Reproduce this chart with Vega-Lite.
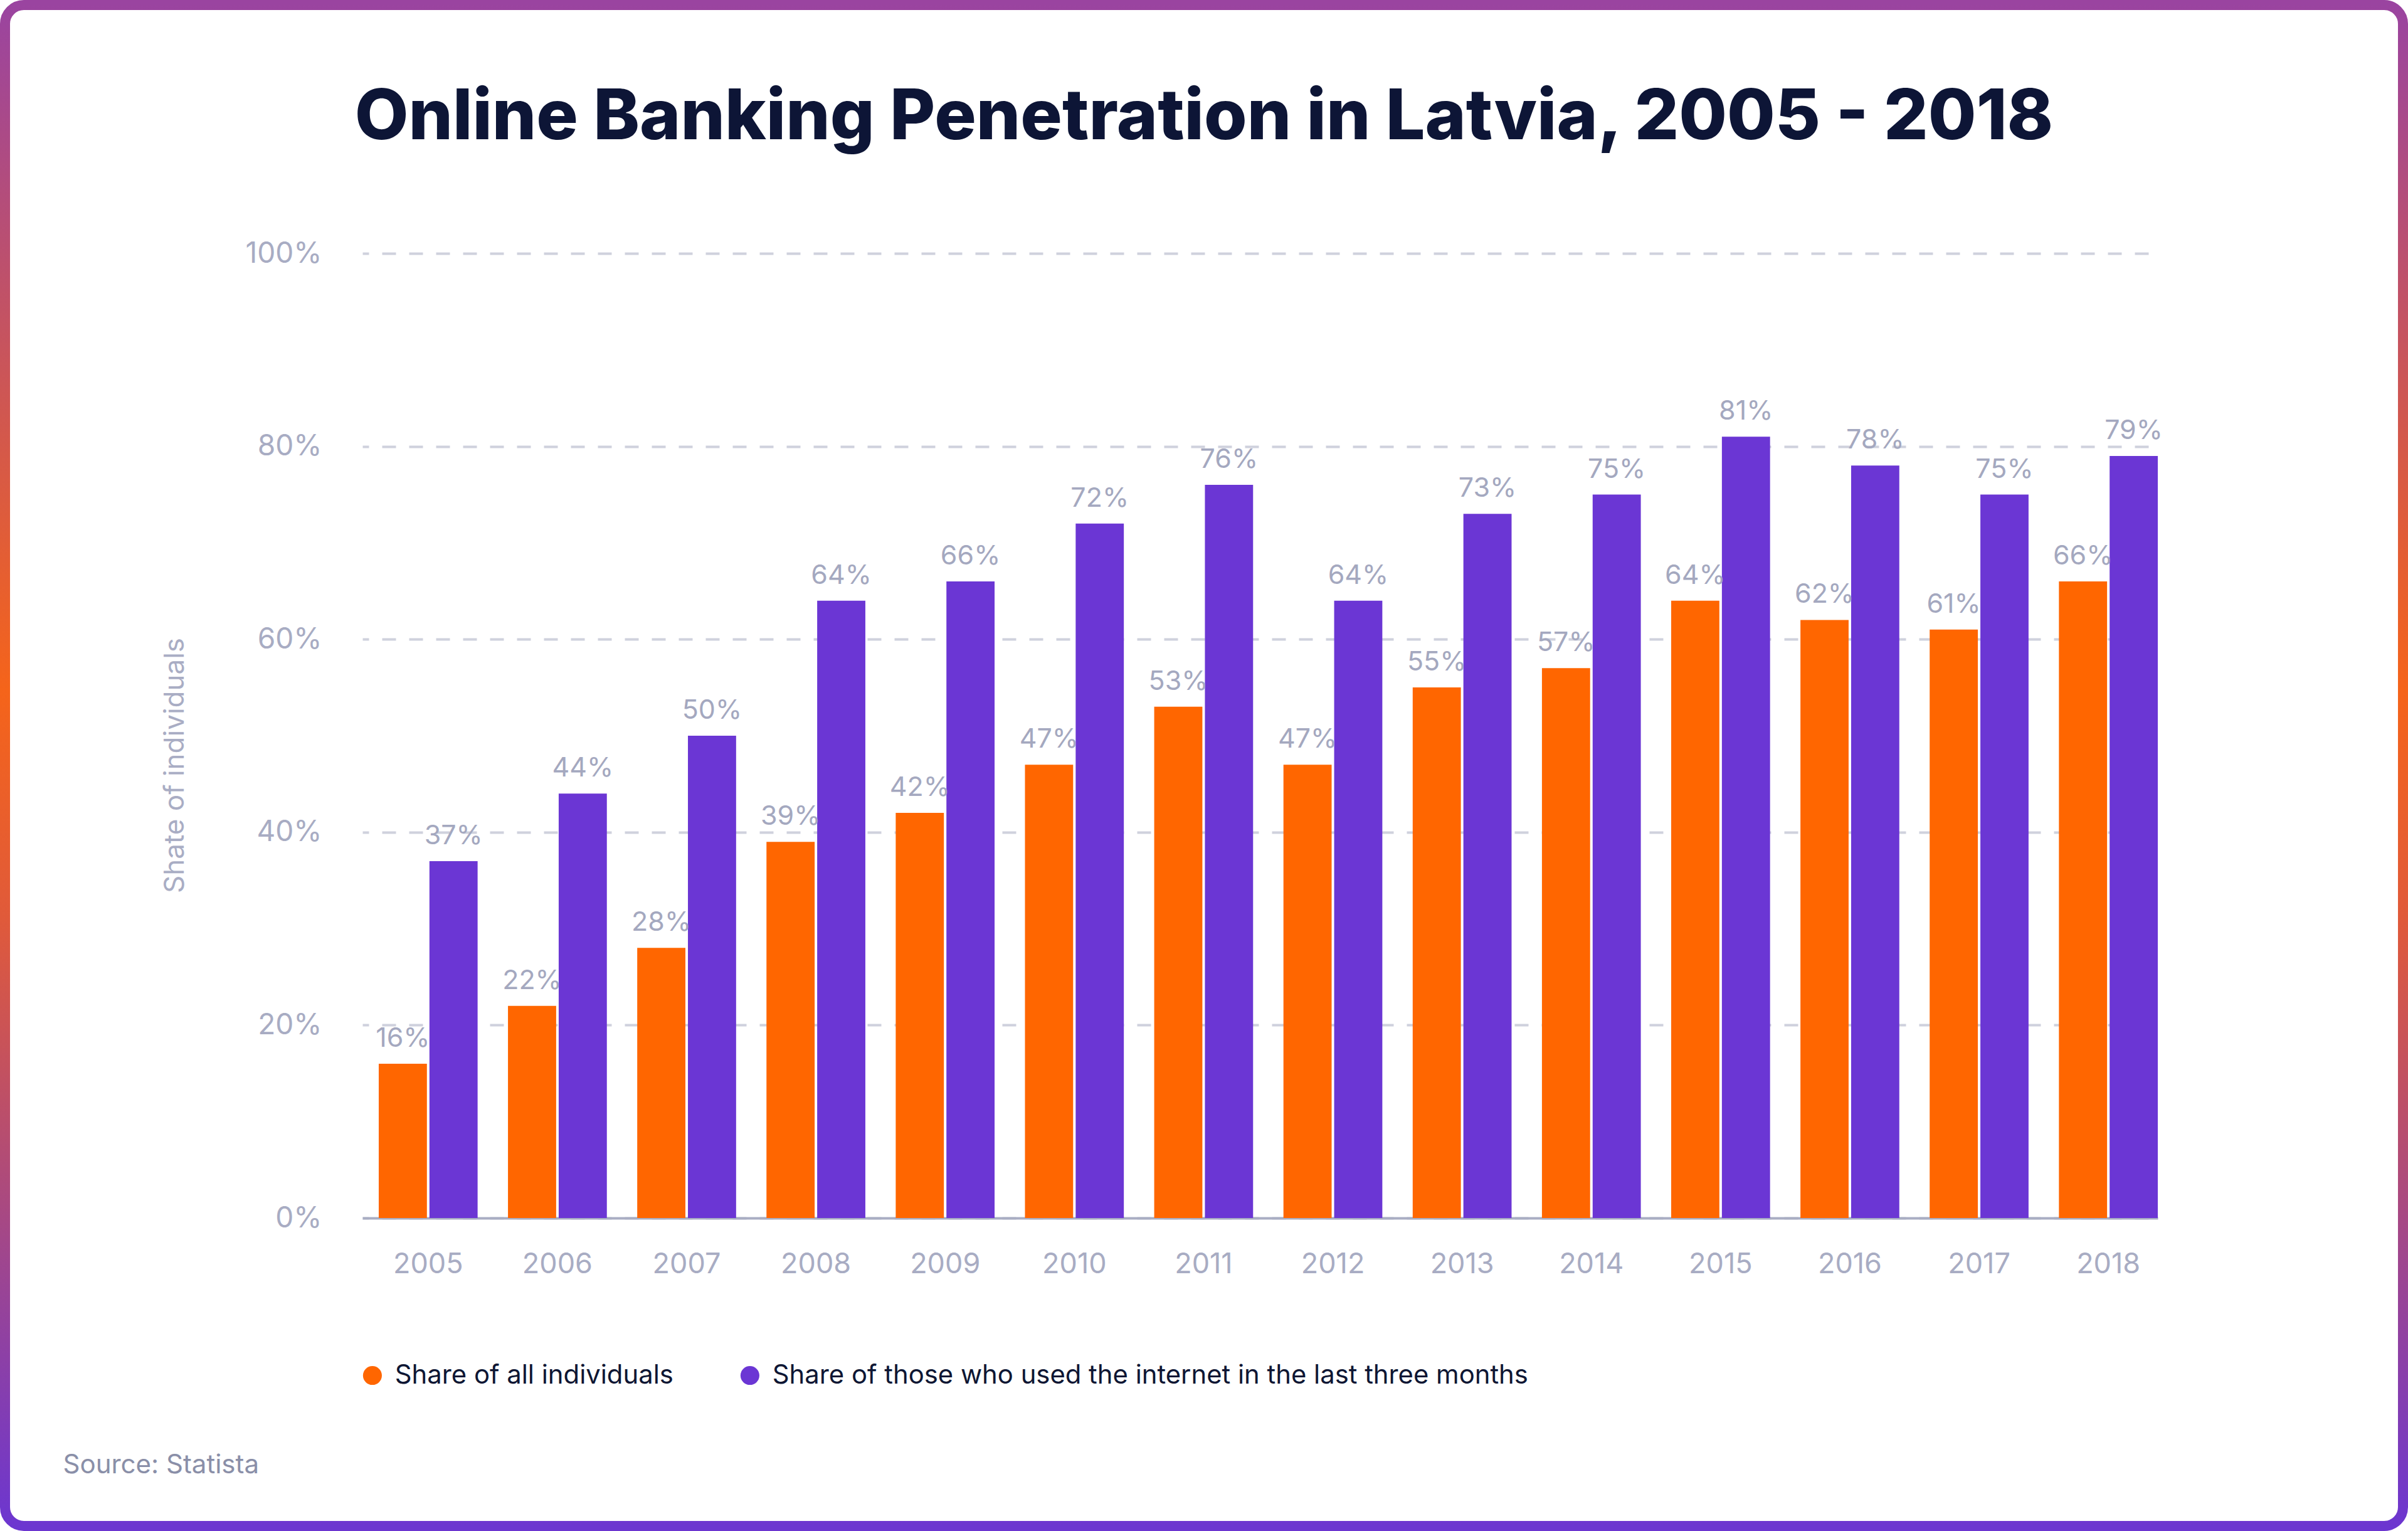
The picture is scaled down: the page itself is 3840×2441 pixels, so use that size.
{
  "$schema": "https://vega.github.io/schema/vega-lite/v6.json",
  "width": 3824,
  "height": 2425,
  "padding": 8,
  "autosize": {"type": "none"},
  "background": "white",
  "title": {
    "text": "Online Banking Penetration in Latvia, 2005 - 2018",
    "anchor": "middle",
    "frame": "group",
    "offset": -325,
    "baseline": "alphabetic",
    "font": "Inter",
    "fontSize": 111,
    "fontWeight": 800,
    "color": "#0d1536"
  },
  "config": {
    "font": "Inter",
    "view": {
      "stroke": {"expr": "{gradient: 'linear', x1: 0, y1: 0, x2: 0, y2: 1, stops: [{offset: 0, color: '#9a44a0'}, {offset: 0.45, color: '#f5641a'}, {offset: 0.6, color: '#e05a3a'}, {offset: 1, color: '#6c36d0'}]}"},
      "strokeWidth": 16,
      "cornerRadius": 30,
      "fill": "white"
    }
  },
  "data": {
    "values": [
      {"year": "2005", "series": "Share of all individuals", "value": 0.16},
      {"year": "2005", "series": "Share of those who used the internet in the last three months", "value": 0.37},
      {"year": "2006", "series": "Share of all individuals", "value": 0.22},
      {"year": "2006", "series": "Share of those who used the internet in the last three months", "value": 0.44},
      {"year": "2007", "series": "Share of all individuals", "value": 0.28},
      {"year": "2007", "series": "Share of those who used the internet in the last three months", "value": 0.50},
      {"year": "2008", "series": "Share of all individuals", "value": 0.39},
      {"year": "2008", "series": "Share of those who used the internet in the last three months", "value": 0.64},
      {"year": "2009", "series": "Share of all individuals", "value": 0.42},
      {"year": "2009", "series": "Share of those who used the internet in the last three months", "value": 0.66},
      {"year": "2010", "series": "Share of all individuals", "value": 0.47},
      {"year": "2010", "series": "Share of those who used the internet in the last three months", "value": 0.72},
      {"year": "2011", "series": "Share of all individuals", "value": 0.53},
      {"year": "2011", "series": "Share of those who used the internet in the last three months", "value": 0.76},
      {"year": "2012", "series": "Share of all individuals", "value": 0.47},
      {"year": "2012", "series": "Share of those who used the internet in the last three months", "value": 0.64},
      {"year": "2013", "series": "Share of all individuals", "value": 0.55},
      {"year": "2013", "series": "Share of those who used the internet in the last three months", "value": 0.73},
      {"year": "2014", "series": "Share of all individuals", "value": 0.57},
      {"year": "2014", "series": "Share of those who used the internet in the last three months", "value": 0.75},
      {"year": "2015", "series": "Share of all individuals", "value": 0.64},
      {"year": "2015", "series": "Share of those who used the internet in the last three months", "value": 0.81},
      {"year": "2016", "series": "Share of all individuals", "value": 0.62},
      {"year": "2016", "series": "Share of those who used the internet in the last three months", "value": 0.78},
      {"year": "2017", "series": "Share of all individuals", "value": 0.61},
      {"year": "2017", "series": "Share of those who used the internet in the last three months", "value": 0.75},
      {"year": "2018", "series": "Share of all individuals", "value": 0.66},
      {"year": "2018", "series": "Share of those who used the internet in the last three months", "value": 0.79}
    ]
  },
  "encoding": {
    "x": {
      "field": "year",
      "type": "ordinal",
      "scale": {"range": [570, 3433], "paddingInner": 0.235, "paddingOuter": 0.063, "align": 1},
      "axis": {
        "offset": -491,
        "labelAngle": 0,
        "ticks": false,
        "tickSize": 0,
        "labelPadding": 51,
        "labelFont": "Inter",
        "labelFontSize": 45,
        "labelColor": "#a8acc3",
        "domainColor": "#a9adc3",
        "domainWidth": 4,
        "grid": false,
        "title": "Source: Statista",
        "titleX": 92,
        "titleY": 406,
        "titleAnchor": null,
        "titleAlign": "left",
        "titleBaseline": "alphabetic",
        "titleFont": "Inter",
        "titleFontSize": 42,
        "titleFontWeight": "normal",
        "titleColor": "#8a8fa8"
      }
    },
    "xOffset": {
      "field": "series",
      "type": "nominal",
      "scale": {"paddingInner": 0.05}
    },
    "y": {
      "field": "value",
      "type": "quantitative",
      "scale": {"domain": [0, 1], "range": [1934, 396], "nice": false, "zero": true},
      "axis": {
        "offset": -570,
        "values": [0, 0.2, 0.4, 0.6, 0.8, 1],
        "format": ".0%",
        "domain": false,
        "ticks": false,
        "tickSize": 0,
        "labelPadding": 65,
        "labelFont": "Inter",
        "labelFontSize": 46,
        "labelColor": "#a8acc3",
        "grid": true,
        "gridColor": "#cfd1dd",
        "gridWidth": 4,
        "gridDash": [22, 21],
        "gridDashOffset": 12,
        "title": "Shate of individuals",
        "titleX": -299,
        "titleY": 1212,
        "titleAngle": -90,
        "titleAlign": "center",
        "titleBaseline": "middle",
        "titleFont": "Inter",
        "titleFontSize": 44,
        "titleFontWeight": "normal",
        "titleColor": "#a9adc4"
      }
    }
  },
  "layer": [
    {
      "mark": {"type": "bar"},
      "encoding": {
        "color": {
          "field": "series",
          "type": "nominal",
          "scale": {
            "domain": ["Share of all individuals", "Share of those who used the internet in the last three months"],
            "range": ["#ff6600", "#6b36d4"]
          },
          "legend": {
            "orient": "none",
            "legendX": 565,
            "legendY": 2164,
            "direction": "horizontal",
            "title": null,
            "symbolType": "circle",
            "symbolSize": 908,
            "symbolStrokeWidth": 0,
            "symbolOpacity": 1,
            "labelFont": "Inter",
            "labelFontSize": 41.8,
            "labelColor": "#0e1633",
            "labelOffset": 15,
            "labelLimit": 2000,
            "columnPadding": 101
          }
        }
      }
    },
    {
      "mark": {"type": "text", "dy": -27, "baseline": "alphabetic", "font": "Inter", "fontSize": 43, "color": "#a4a8bf"},
      "encoding": {
        "text": {"field": "value", "type": "quantitative", "format": ".0%"}
      }
    }
  ]
}
